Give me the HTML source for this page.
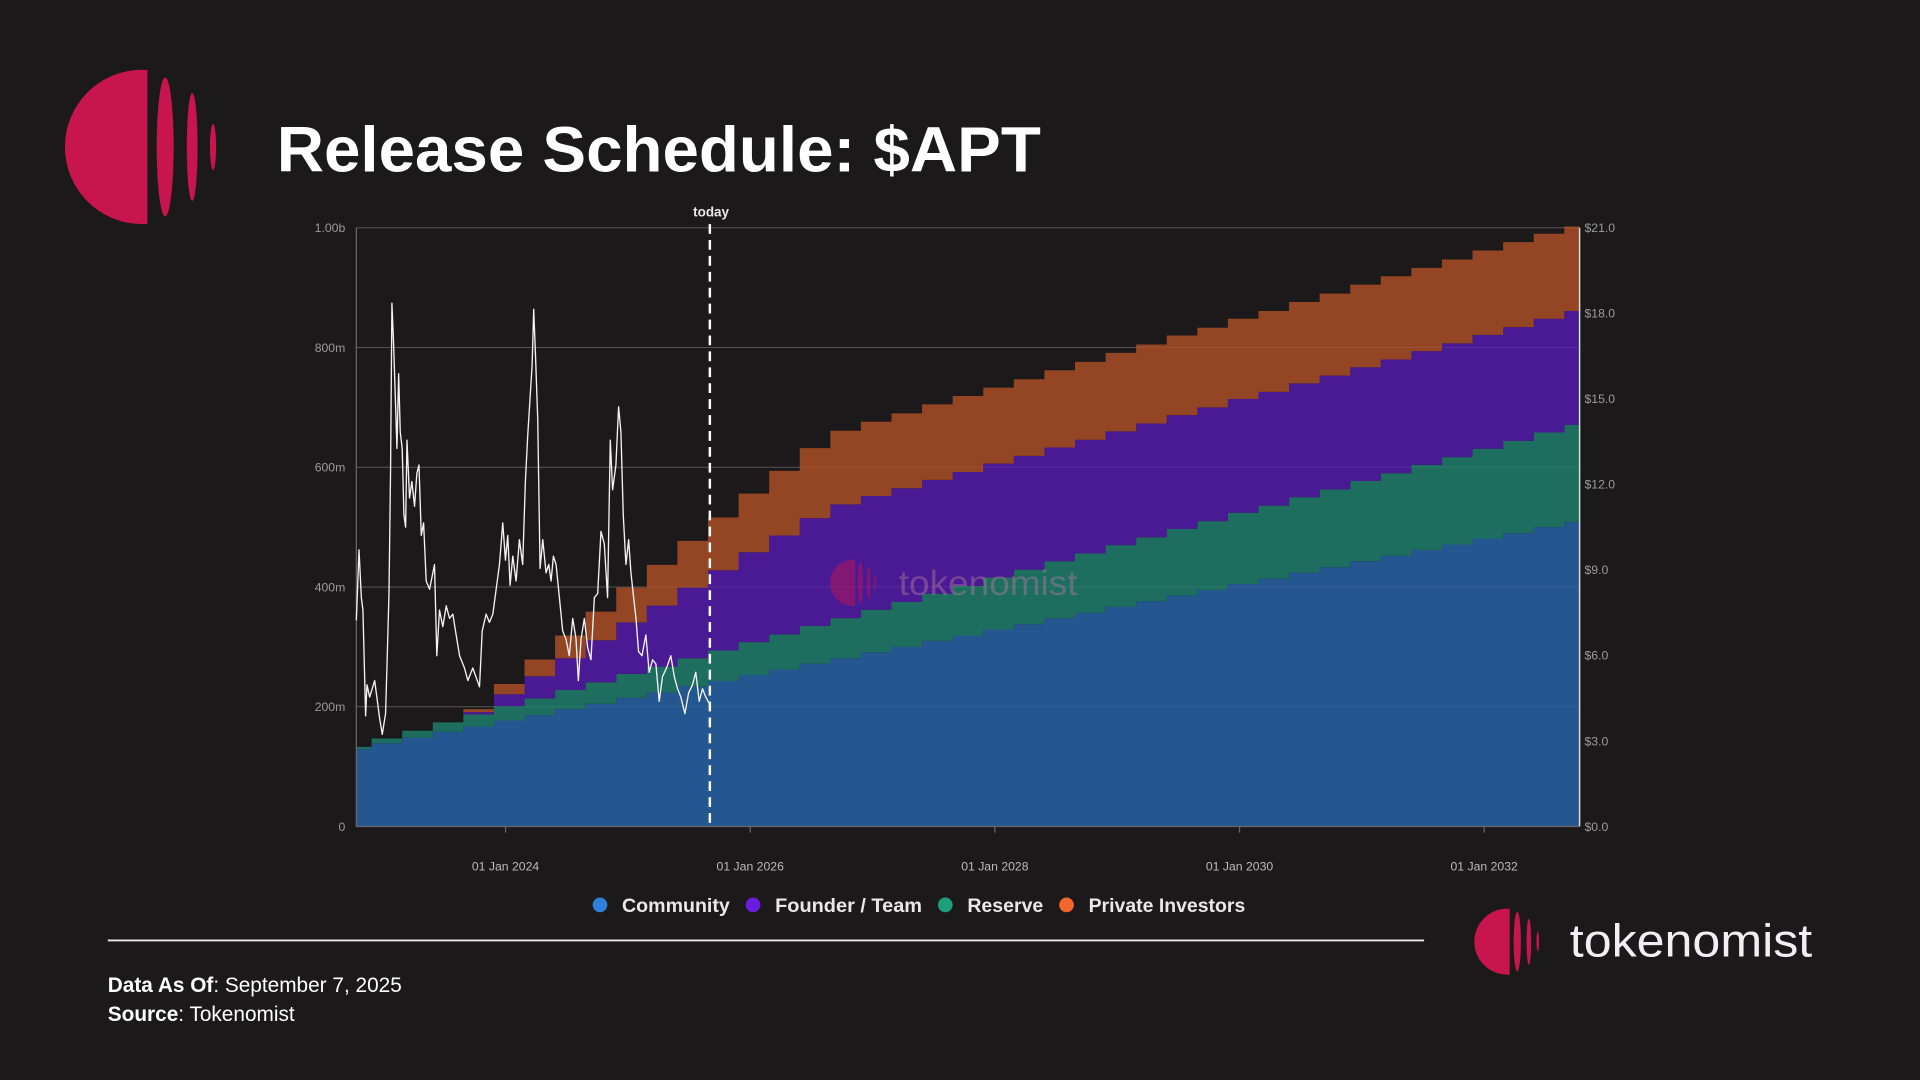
<!DOCTYPE html>
<html><head><meta charset="utf-8"><style>
html,body{margin:0;padding:0;background:#1c191a;width:1920px;height:1080px;overflow:hidden}
svg{display:block}
text{font-family:"Liberation Sans",sans-serif}
</style></head><body>
<svg id="root" width="1920" height="1080" viewBox="0 0 1568 882" preserveAspectRatio="none" xmlns="http://www.w3.org/2000/svg">
<rect x="0" y="0" width="1568" height="882" fill="#1c191a"/>
<g id="logoTop"></g>
<text x="226" y="140" font-size="52" font-weight="bold" fill="#ffffff" textLength="624" lengthAdjust="spacingAndGlyphs">Release Schedule: $APT</text>
<g id="chart"></g>
<g>
<g><circle cx="490" cy="739" r="6" fill="#2e7fd9"/><text x="508" y="745" font-size="16" font-weight="bold" fill="#e8e8e8" textLength="88" lengthAdjust="spacingAndGlyphs">Community</text></g>
<g><circle cx="615" cy="739" r="6" fill="#6a1be0"/><text x="633" y="745" font-size="16" font-weight="bold" fill="#e8e8e8" textLength="120" lengthAdjust="spacingAndGlyphs">Founder / Team</text></g>
<g><circle cx="772" cy="739" r="6" fill="#1f9e7c"/><text x="790" y="745" font-size="16" font-weight="bold" fill="#e8e8e8" textLength="62" lengthAdjust="spacingAndGlyphs">Reserve</text></g>
<g><circle cx="871" cy="739" r="6" fill="#f0672e"/><text x="889" y="745" font-size="16" font-weight="bold" fill="#e8e8e8" textLength="128" lengthAdjust="spacingAndGlyphs">Private Investors</text></g>
</g>
<line x1="88" y1="768" x2="1163" y2="768" stroke="#e8e8e8" stroke-width="1.5"/>
<text x="88" y="810" font-size="17" fill="#ffffff"><tspan font-weight="bold">Data As Of</tspan>: September 7, 2025</text>
<text x="88" y="834" font-size="17" fill="#ffffff"><tspan font-weight="bold">Source</tspan>: Tokenomist</text>
<g id="logoBottom"></g>
<text x="1282" y="781" font-size="38" fill="#f4eef2" textLength="198" lengthAdjust="spacingAndGlyphs">tokenomist</text>
</svg>
<script>
// ---- chart data ----
const launchYear = 2022.78;
const quarterYears = [0,0.25,0.5,0.75,1,1.25,1.5,1.75,2,2.25,2.5,2.75,3,3.25,3.5,3.75,4,4.25,4.5,4.75,5,5.25,5.5,5.75,6,6.25,6.5,6.75,7,7.25,7.5,7.75,8,8.25,8.5,8.75,9,9.25,9.5,9.75,10];
const communitySupply = [129,139,148,158,167,177,186,196,205,215,224,234,243,253,262,272,281,291,300,310,319,329,338,348,357,367,376,386,395,405,414,424,433,443,452,462,471,481,490,500,509];
const reserveSupply = [4,8,12,16,20,24,28,32,36,40,43,47,51,55,59,63,67,71,75,79,83,87,91,95,99,103,107,111,115,119,122,126,130,134,138,142,146,150,154,158,162];
const founderSupply = [0,0,0,0,4,20,37,53,70,86,102,118,134,150,165,180,190,190,190,190,190,190,190,190,190,190,190,190,190,190,190,190,190,190,190,190,190,190,190,190,190];
const privateSupply = [0,0,0,0,5,17,28,38,48,58,68,78,88,98,108,117,123,124,125,126,127,127,128,129,130,131,132,133,133,134,135,136,137,138,139,139,140,141,142,142,141];
const priceYears = [0,.022,.041,.054,.076,.087,.109,.150,.190,.212,.239,.250,.267,.280,.291,.305,.318,.332,.346,.359,.375,.389,.403,.414,.435,.454,.476,.495,.512,.531,.550,.571,.599,.639,.658,.680,.707,.735,.762,.789,.816,.844,.884,.912,.952,1.007,1.029,1.061,1.088,1.116,1.143,1.170,1.197,1.219,1.238,1.257,1.279,1.306,1.333,1.360,1.382,1.401,1.420,1.437,1.450,1.464,1.483,1.502,1.524,1.551,1.573,1.592,1.611,1.633,1.660,1.687,1.714,1.741,1.769,1.796,1.815,1.837,1.864,1.891,1.918,1.946,1.973,2.000,2.027,2.054,2.076,2.095,2.122,2.144,2.163,2.182,2.204,2.226,2.245,2.267,2.286,2.307,2.335,2.367,2.394,2.422,2.449,2.476,2.503,2.536,2.571,2.599,2.626,2.653,2.686,2.716,2.748,2.775,2.803,2.830,2.857,2.884];
const priceValues = [7.23,9.70,8.03,7.59,3.88,4.97,4.54,5.12,3.81,3.23,3.96,5.56,8.17,12.54,18.35,16.90,15.15,13.26,15.88,13.84,13.26,10.94,10.50,13.55,11.52,12.10,11.23,12.39,12.68,10.21,10.65,8.61,8.32,9.19,5.99,7.59,7.01,7.74,7.30,7.45,6.72,5.99,5.56,5.12,5.56,4.90,6.86,7.45,7.16,7.45,8.32,9.19,10.65,9.34,10.21,8.46,9.48,8.61,10.06,9.19,12.10,13.70,15.01,16.17,18.14,16.61,14.28,9.05,10.06,8.90,9.19,8.61,9.48,9.19,8.03,6.86,6.57,5.99,7.30,6.57,5.12,6.57,7.30,6.28,5.85,8.03,8.17,10.35,9.92,8.03,13.55,11.81,12.68,14.72,13.84,10.94,9.19,10.06,8.90,8.03,7.30,6.14,5.99,6.72,5.41,5.85,5.70,4.39,5.26,5.56,5.99,5.26,4.83,4.54,3.96,4.68,4.97,5.41,4.39,4.83,4.54,4.32];
const leftTickValues = [0,200,400,600,800,1000];
const leftTickLabels = ["0","200m","400m","600m","800m","1.00b"];
const rightTickValues = [0,3,6,9,12,15,18,21];
const rightTickLabels = ["$0.0","$3.0","$6.0","$9.0","$12.0","$15.0","$18.0","$21.0"];
const xTickYears = [2024,2026,2028,2030,2032];
const xTickLabels = ["01 Jan 2024","01 Jan 2026","01 Jan 2028","01 Jan 2030","01 Jan 2032"];
const todayYearOffset = 2.89;

const NS = "http://www.w3.org/2000/svg";
const P = {left:291,right:1290,top:186,bottom:675};
const xScale = t => P.left + t/10*(P.right-P.left);
const ySupply = v => P.bottom - v/1000*(P.bottom-P.top);
const yPrice = v => P.bottom - v/21*(P.bottom-P.top);
function mk(tag, attrs, parent){const e=document.createElementNS(NS,tag);for(const k in attrs)e.setAttribute(k,attrs[k]);parent.appendChild(e);return e;}

function drawLogo(g, cx, cy, r, idp){
  const d = mk('defs',{},g);
  const cp = mk('clipPath',{id:idp+'clip'},d);
  mk('rect',{x:cx-r-1,y:cy-r-1,width:r+r*0.07+1,height:2*r+2},cp);
  const c = mk('circle',{cx:cx,cy:cy,r:r,fill:'#c8144f','clip-path':'url(#'+idp+'clip)'},g);
  
  
  const el = [[0.30,0.11,0.90],[0.65,0.07,0.70],[0.92,0.04,0.30]];
  el.forEach(a=>{const e=mk('ellipse',{cx:cx+a[0]*r,cy:cy,rx:a[1]*r,ry:a[2]*r,fill:'#c8144f'},g);
    
    });
}
drawLogo(document.getElementById('logoTop'),116,120,63,'lt');
drawLogo(document.getElementById('logoBottom'),1231,769,27,'lb');

const chart = document.getElementById('chart');
leftTickValues.forEach((v,i)=>{
  const y=ySupply(v);
  if(v>0){const gl=mk('line',{x1:P.left,y1:y,x2:P.right,y2:y,stroke:'#4a4748','stroke-width':0.8},chart);
    
    }
  const t=mk('text',{x:282,y:y+3.5,'font-size':10,fill:'#9c9a9b','text-anchor':'end'},chart);
  t.textContent=leftTickLabels[i];
  
  
});
const series=[communitySupply,reserveSupply,founderSupply,privateSupply];
const colors=['#24568f','#1d6e5e','#4a1a94','#944524'];
const names=['area-community','area-reserve','area-founder-team','area-private-investors'];
const base=quarterYears.map(()=>0);
const areaG=mk('g',{},chart);
const half=0.125;
series.forEach((s,si)=>{
  const top=base.map((b,i)=>b+s[i]);
  const n=quarterYears.length;
  const xa=i=>xScale(Math.max(0,quarterYears[i]-half));
  const xb=i=>xScale(Math.min(10,quarterYears[i]+half));
  let d='';
  for(let i=0;i<n;i++){
    d+=(i===0?'M':'L')+xa(i)+','+ySupply(top[i])+'L'+xb(i)+','+ySupply(top[i]);
  }
  for(let i=n-1;i>=0;i--){
    d+='L'+xb(i)+','+ySupply(base[i])+'L'+xa(i)+','+ySupply(base[i]);
  }
  d+='Z';
  const p=mk('path',{d:d,fill:colors[si]},areaG);
  
  
  for(let i=0;i<n;i++)base[i]=top[i];
});
leftTickValues.forEach(v=>{if(v>0){const gl=mk('line',{x1:P.left,y1:ySupply(v),x2:P.right,y2:ySupply(v),stroke:'rgba(255,255,255,0.07)','stroke-width':0.8},chart);
  
  }});
const wm=mk('g',{opacity:0.45},chart);


drawLogo(wm,697,476,19,'wm');
const wt=mk('text',{x:734,y:486,'font-size':29,fill:'#b07aa0',textLength:146,lengthAdjust:'spacingAndGlyphs'},wm);
wt.textContent='tokenomist';
const la=mk('line',{x1:P.left,y1:P.top,x2:P.left,y2:P.bottom,stroke:'#6a6768','stroke-width':1},chart);


const ra=mk('line',{x1:P.right,y1:P.top,x2:P.right,y2:P.bottom,stroke:'#e0e0e0','stroke-width':1.2},chart);


const ba=mk('line',{x1:P.left,y1:P.bottom,x2:P.right,y2:P.bottom,stroke:'#6a6768','stroke-width':1},chart);


rightTickValues.forEach((v,i)=>{
  const t=mk('text',{x:1294,y:yPrice(v)+3.5,'font-size':10,fill:'#9c9a9b'},chart);
  t.textContent=rightTickLabels[i];
  
  
});
xTickYears.forEach((yr,i)=>{
  const x=xScale(yr-launchYear);
  const tk=mk('line',{x1:x,y1:P.bottom,x2:x,y2:P.bottom+5,stroke:'#6a6768'},chart);
  
  
  const t=mk('text',{x:x,y:711,'font-size':10,fill:'#bcbabb','text-anchor':'middle'},chart);
  t.textContent=xTickLabels[i];
  
  
});
const pts=priceYears.map((t,i)=>xScale(t)+','+yPrice(priceValues[i])).join(' ');
const pl=mk('polyline',{points:pts,fill:'none',stroke:'#f2f2f2','stroke-width':1.1,'stroke-linejoin':'round'},chart);


const tx=xScale(todayYearOffset);
const tl=mk('line',{x1:tx,y1:183,x2:tx,y2:P.bottom,stroke:'#ffffff','stroke-width':2,'stroke-dasharray':'8,5'},chart);


const tt=mk('text',{x:tx+1,y:177,'font-size':11,'font-weight':'bold',fill:'#e8e8e8','text-anchor':'middle'},chart);
tt.textContent='today';


</script>
</body></html>
